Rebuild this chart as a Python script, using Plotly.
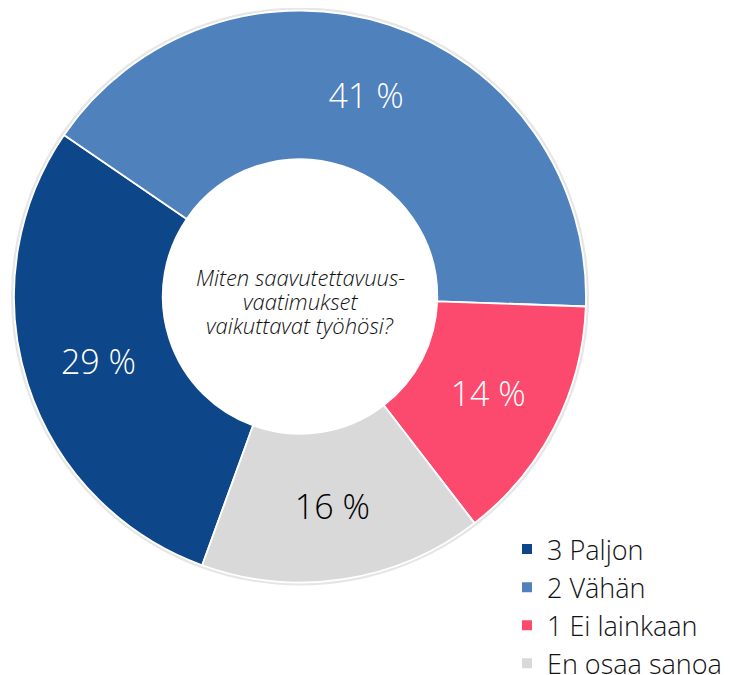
import plotly.graph_objects as go

LABELS = ["3 Paljon", "2 Vähän", "1 Ei lainkaan", "En osaa sanoa"]
VALUES = [29, 41, 14, 16]
COLORS = ["#0D4689", "#4F81BD", "#FC4A6E", "#D9D9D9"]
TEXT_COLORS = ["#FFFFFF", "#FFFFFF", "#FFFFFF", "#000000"]

CENTER_LINES = ["Miten saavutettavuus-", "vaatimukset", "vaikuttavat työhösi?"]

W, H = 731, 675
CX, CY, R = 292, 288.5, 286

fig = go.Figure(go.Pie(
    labels=LABELS,
    values=VALUES,
    hole=0.48,
    sort=False,
    direction="clockwise",
    rotation=200,
    marker=dict(colors=COLORS, line=dict(color="#FFFFFF", width=1.8)),
    texttemplate="%{value} %",
    textposition="inside",
    insidetextorientation="horizontal",
    textfont=dict(size=34, color=TEXT_COLORS, family="Open Sans", weight=300),
    domain=dict(
        x=[(CX - R) / W, (CX + R) / W],
        y=[(H - CY - R) / H, (H - CY + R) / H],
    ),
    hoverinfo="label+percent",
))

# soft grey edge around the ring
fig.add_shape(
    type="circle", xref="paper", yref="paper", layer="below",
    x0=(CX - R - 1.5) / W, x1=(CX + R + 1.5) / W,
    y0=1 - (CY + R + 1.5) / H, y1=1 - (CY - R - 1.5) / H,
    line=dict(color="#E6E6E6", width=3),
)

for i, line in enumerate(CENTER_LINES):
    fig.add_annotation(
        x=CX / W, y=1 - (CY - 19.5 + 24 * i) / H, xref="paper", yref="paper",
        text=line, showarrow=False, yanchor="middle",
        font=dict(size=22, color="#111111", family="Open Sans", style="italic", weight=300),
    )

fig.update_layout(
    width=W, height=H,
    margin=dict(l=0, r=0, t=0, b=0, autoexpand=False),
    paper_bgcolor="white",
    plot_bgcolor="white",
    legend=dict(
        x=499 / W, y=1 - 517 / H, xanchor="left", yanchor="top",
        font=dict(size=27, color="#111111", family="Open Sans", weight=300),
        itemsizing="constant",
        tracegroupgap=0,
        bgcolor="rgba(0,0,0,0)",
    ),
)

fig.write_html("out.html")
